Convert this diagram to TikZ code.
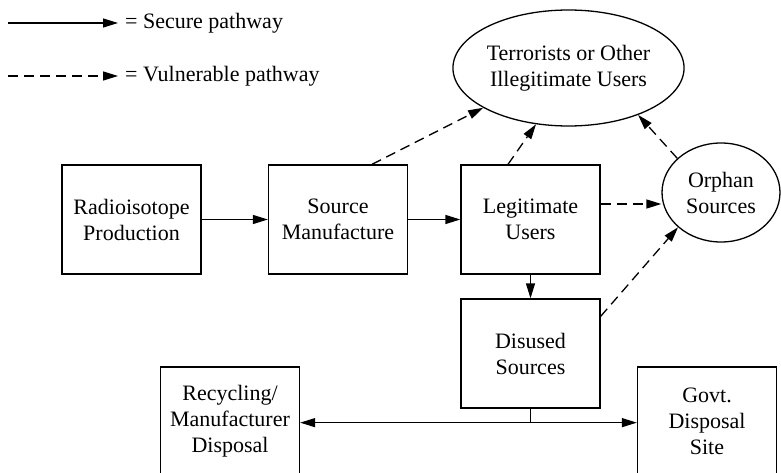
\documentclass[tikz,border=0pt]{standalone}
\usepackage{fontspec}
\setmainfont{Liberation Serif}
\newfontfamily\diagfont{Liberation Serif}
\usetikzlibrary{arrows.meta,shapes.geometric}
\begin{document}
\begin{tikzpicture}[x=1pt,y=-1pt,
  every node/.style={font=\diagfont\fontsize{22}{26}\selectfont},
  box/.style={draw,line width=1.3pt,minimum width=139pt,minimum height=109pt,inner sep=0pt,align=center},
  oval/.style={draw,ellipse,line width=1.3pt,inner sep=0pt,align=center},
  sec/.style={line width=1.3pt,-{Triangle[length=15pt,width=9pt]}},
  vul/.style={sec,dash pattern=on 10pt off 6pt}]
\useasboundingbox (0,0) rectangle (781,473);
\clip (0,0) rectangle (781,473);
% legend
\coordinate (l1a) at (8,23);
\coordinate (l1b) at (118,23);
\coordinate (l2a) at (8,76);
\coordinate (l2b) at (118,76);
\draw[sec] (l1a) -- (l1b);
\draw[vul] (l2a) -- (l2b);
\node[anchor=west,inner sep=0pt] (t1) at (125,23) {= Secure pathway};
\node[anchor=west,inner sep=0pt] (t2) at (125,76) {= Vulnerable pathway};
% nodes
\node[box] (radio) at (131.5,219.5) {Radioisotope\\Production};
\node[box] (source) at (338,219.5) {Source\\Manufacture};
\node[box] (legit) at (530.5,219.5) {Legitimate\\Users};
\node[box] (disused) at (530.5,353.5) {Disused\\Sources};
\node[box,minimum height=108pt] (recyc) at (230,421) {Recycling/\\Manufacturer\\Disposal};
\node[box,minimum height=108pt] (govt) at (707,421) {Govt.\\Disposal\\Site};
\node[oval,minimum width=185pt,minimum height=116pt] (terr) at (568.5,68) {Terrorists or Other\\Illegitimate Users};
\node[oval,minimum width=118pt,minimum height=99pt] (orphan) at (721,192.5) {Orphan\\Sources};
% secure
\draw[sec] (radio.east) -- (source.west);
\draw[sec] (source.east) -- (legit.west);
\draw[sec] (legit.south) -- (disused.north);
\draw[line width=1.3pt] (disused.south) -- ++(0,14) coordinate (j);
\draw[sec] (j) -- (govt.west |- j);
\draw[sec] (j) -- (recyc.east |- j);
% vulnerable
\draw[vul] ([xshift=34pt]source.north) -- (terr.205);
\draw[vul] ([xshift=-22.5pt]legit.north) -- (terr.240);
\draw[vul] (orphan.142) -- (terr.326);
\draw[vul] ([yshift=15.5pt]legit.east) -- ([yshift=15.5pt]legit.east -| orphan.west);
\draw[vul] ([yshift=-18pt]disused.north east) -- (orphan.219);
\end{tikzpicture}
\end{document}
